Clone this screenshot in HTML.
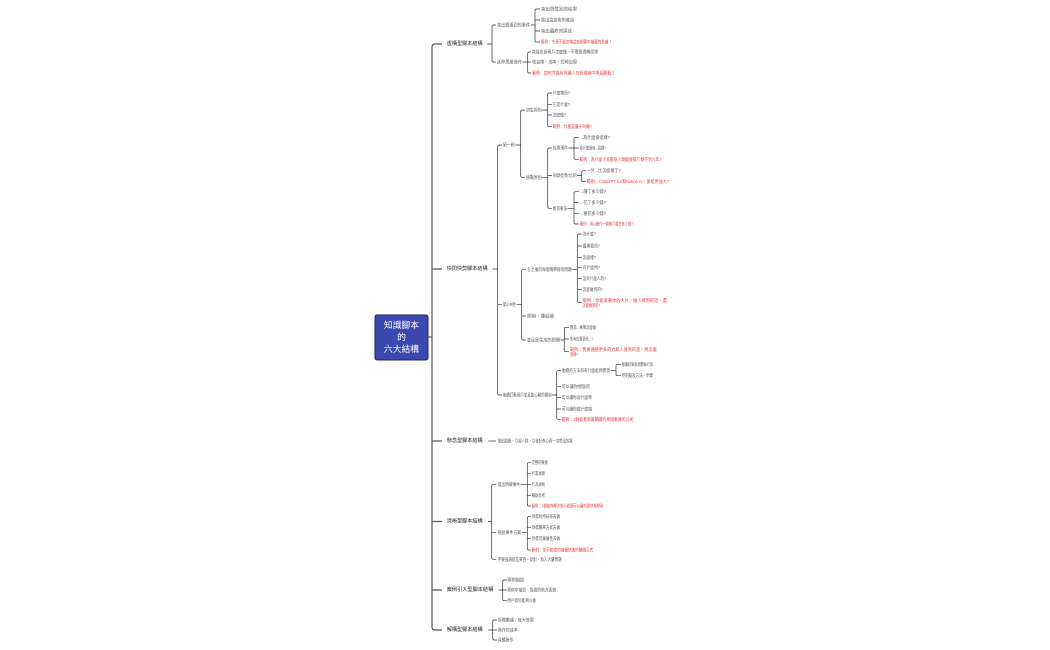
<!DOCTYPE html>
<html><head><meta charset="utf-8"><style>
html,body{margin:0;padding:0;background:#fff;width:1050px;height:650px;overflow:hidden}
svg{display:block}
text{font-family:"Liberation Sans","Noto Sans CJK TC",sans-serif;dominant-baseline:central}
.c{font-size:4.3px;fill:#555}
.r{font-size:4.3px;fill:#e8383d}
.l1{font-size:5.2px;fill:#222}
.ln{fill:none;stroke:#333;stroke-width:0.7}
.sp{fill:none;stroke:#555;stroke-width:1.2}
</style></head><body>
<svg width="1050" height="650" viewBox="0 0 1050 650" xmlns="http://www.w3.org/2000/svg">
<!-- central node -->
<rect x="375" y="315" width="53" height="45" rx="2" fill="#3b48ae" stroke="#1e2560" stroke-width="1"/>
<text x="401.5" y="325" text-anchor="middle" style="font-size:8.8px;fill:#fff">知識腳本</text>
<text x="401.5" y="337" text-anchor="middle" style="font-size:8.8px;fill:#fff">的</text>
<text x="401.5" y="349" text-anchor="middle" style="font-size:8.8px;fill:#fff">六大結構</text>
<path class="sp" d="M428,337 H432"/>
<path class="sp" d="M442,44 H435 Q432,44 432,47 V627 Q432,630 435,630 H442 M432,269 H442 M432,441 H442 M432,521.5 H442 M432,590 H442"/>

<!-- level 1 -->
<text class="l1" x="446.7" y="44" textLength="36" lengthAdjust="spacingAndGlyphs">虛構型腳本結構</text>
<text class="l1" x="446.7" y="269" textLength="41" lengthAdjust="spacingAndGlyphs">快閃快剪腳本結構</text>
<text class="l1" x="446.7" y="441" textLength="36" lengthAdjust="spacingAndGlyphs">懸念型腳本結構</text>
<text class="l1" x="446.7" y="521.5" textLength="36" lengthAdjust="spacingAndGlyphs">清晰型腳本結構</text>
<text class="l1" x="446.7" y="590" textLength="46.6" lengthAdjust="spacingAndGlyphs">案例引入型腳本結構</text>
<text class="l1" x="446.7" y="630" textLength="36" lengthAdjust="spacingAndGlyphs">解構型腳本結構</text>

<!-- Branch 1 -->
<path class="ln" d="M487,44 H492 M496,25 H493.5 Q492,25 492,26.5 V60.5 Q492,62 493.5,62 H496"/>
<text class="c" x="497" y="25" textLength="33" lengthAdjust="spacingAndGlyphs">突出要達到的事件</text>
<path class="ln" d="M531,25 H535 M540,9 H536.5 Q535,9 535,10.5 V40.5 Q535,42 536.5,42 H540 M535,20 H540 M535,31 H540"/>
<text class="c" x="541" y="9" textLength="36" lengthAdjust="spacingAndGlyphs">突出與性別的結果</text>
<text class="c" x="541" y="20" textLength="33" lengthAdjust="spacingAndGlyphs">突出這技術的收益</text>
<text class="c" x="541" y="31" textLength="31" lengthAdjust="spacingAndGlyphs">突出最終的達成</text>
<text class="r" x="541" y="42" textLength="71" lengthAdjust="spacingAndGlyphs">範例：千萬不要忽略這些細節中隱藏的危機！</text>
<text class="c" x="497" y="62" textLength="25" lengthAdjust="spacingAndGlyphs">延伸思維操作</text>
<path class="ln" d="M522.5,62 H531 M531,52 H529.2 Q527.7,52 527.7,53.5 V71.5 Q527.7,73 529.2,73 H531"/>
<text class="c" x="532" y="52" textLength="66" lengthAdjust="spacingAndGlyphs">直接告訴用戶怎麼做，不需要理解原理</text>
<text class="c" x="532" y="62" textLength="45" lengthAdjust="spacingAndGlyphs">收益降、成本、短時出現</text>
<text class="r" x="532" y="73" textLength="83" lengthAdjust="spacingAndGlyphs">範例：如何才能有效讓人在短視頻中增長觀看？</text>

<!-- Branch 2 -->
<path class="ln" d="M492.7,269 H497.7 M502,145 H499.2 Q497.7,145 497.7,146.5 V393.5 Q497.7,395 499.2,395 H502 M497.7,304.3 H502"/>
<text class="c" x="502.7" y="145" textLength="12.3" lengthAdjust="spacingAndGlyphs">第一秒</text>
<path class="ln" d="M515.5,145 H520.7 M525,110 H522.2 Q520.7,110 520.7,111.5 V175.8 Q520.7,177.3 522.2,177.3 H525"/>
<text class="c" x="526" y="110" textLength="15.7" lengthAdjust="spacingAndGlyphs">初生原則</text>
<path class="ln" d="M542,110 H547.7 M552,93 H549.2 Q547.7,93 547.7,94.5 V125.2 Q547.7,126.7 549.2,126.7 H552 M547.7,104.3 H552 M547.7,115 H552"/>
<text class="c" x="552.7" y="93" textLength="17.3" lengthAdjust="spacingAndGlyphs">什麼東西?</text>
<text class="c" x="552.7" y="104.3" textLength="17.3" lengthAdjust="spacingAndGlyphs">它是什麼?</text>
<text class="c" x="552.7" y="115" textLength="13.3" lengthAdjust="spacingAndGlyphs">怎麼做?</text>
<text class="r" x="552.7" y="126.7" textLength="39" lengthAdjust="spacingAndGlyphs">範例：什麼是量子糾纏?</text>
<text class="c" x="526" y="177.3" textLength="15.7" lengthAdjust="spacingAndGlyphs">挑戰原則</text>
<path class="ln" d="M542,177.3 H547.7 M552,148 H549.2 Q547.7,148 547.7,149.5 V206.8 Q547.7,208.3 549.2,208.3 H552 M547.7,175.5 H552"/>
<text class="c" x="552.7" y="148" textLength="15.3" lengthAdjust="spacingAndGlyphs">找尋事件</text>
<path class="ln" d="M568.5,148 H579 M579,137.3 H575.5 Q574,137.3 574,138.8 V157.8 Q574,159.3 575.5,159.3 H579"/>
<text class="c" x="579.5" y="137.3" textLength="30.5" lengthAdjust="spacingAndGlyphs">...為什麼會這樣?</text>
<text class="c" x="579.5" y="148" textLength="26.5" lengthAdjust="spacingAndGlyphs">為什麼會有...這樣?</text>
<text class="r" x="579.5" y="159.3" textLength="82" lengthAdjust="spacingAndGlyphs">範例：為什麼大家都說人類最後都只剩不到九年?</text>
<text class="c" x="552.7" y="175.5" textLength="24" lengthAdjust="spacingAndGlyphs">同類型對比的</text>
<path class="ln" d="M577,175.5 H581.7 M586,170.7 H583.2 Q581.7,170.7 581.7,172.2 V180.2 Q581.7,181.7 583.2,181.7 H586"/>
<text class="c" x="586.7" y="170.7" textLength="34" lengthAdjust="spacingAndGlyphs">—另...比怎麼樣了?</text>
<text class="r" x="586.7" y="181.7" textLength="82.3" lengthAdjust="spacingAndGlyphs">範例：ChatGPT 4.0和Notion AI，誰能更強大?</text>
<text class="c" x="552.7" y="208.3" textLength="14.5" lengthAdjust="spacingAndGlyphs">如何看法</text>
<path class="ln" d="M567.5,208.3 H574 M579,191.7 H575.5 Q574,191.7 574,193.2 V222.5 Q574,224 575.5,224 H579 M574,202.3 H579 M574,213.3 H579"/>
<text class="c" x="580" y="191.7" textLength="26" lengthAdjust="spacingAndGlyphs">...講了多少錢?</text>
<text class="c" x="580" y="202.3" textLength="26" lengthAdjust="spacingAndGlyphs">...花了多少錢?</text>
<text class="c" x="580" y="213.3" textLength="26" lengthAdjust="spacingAndGlyphs">...要花多少錢?</text>
<text class="r" x="580" y="224" textLength="53" lengthAdjust="spacingAndGlyphs">範例：用AI操作一個帳戶要花多少錢?</text>

<text class="c" x="502.7" y="304.3" textLength="13.3" lengthAdjust="spacingAndGlyphs">第2-8秒</text>
<path class="ln" d="M516.5,304.3 H521.7 M526,269.3 H523.2 Q521.7,269.3 521.7,270.8 V338.5 Q521.7,340 523.2,340 H526 M521.7,316 H526"/>
<text class="c" x="527.3" y="269.3" textLength="44.4" lengthAdjust="spacingAndGlyphs">在之後的每個情節裡的問題</text>
<path class="ln" d="M572,269.3 H577.3 M582,234 H578.8 Q577.3,234 577.3,235.5 V301 Q577.3,302.5 578.8,302.5 H582 M577.3,246 H582 M577.3,257.3 H582 M577.3,267.7 H582 M577.3,278.3 H582 M577.3,289.3 H582"/>
<text class="c" x="582.7" y="234" textLength="13.3" lengthAdjust="spacingAndGlyphs">為什麼?</text>
<text class="c" x="582.7" y="246" textLength="17.3" lengthAdjust="spacingAndGlyphs">最重要的?</text>
<text class="c" x="582.7" y="257.3" textLength="13.3" lengthAdjust="spacingAndGlyphs">怎麼樣?</text>
<text class="c" x="582.7" y="267.7" textLength="17.3" lengthAdjust="spacingAndGlyphs">有什麼用?</text>
<text class="c" x="582.7" y="278.3" textLength="23.3" lengthAdjust="spacingAndGlyphs">沒有什麼人的?</text>
<text class="c" x="582.7" y="289.3" textLength="20" lengthAdjust="spacingAndGlyphs">怎麼做到的?</text>
<text class="r" x="582.7" y="300.4" textLength="84" lengthAdjust="spacingAndGlyphs">範例：你能拿著你的大片，做人感到的話，還</text>
<text class="r" x="582.7" y="305.3" textLength="17.3" lengthAdjust="spacingAndGlyphs">怎麼做到的?</text>
<text class="c" x="527.3" y="316" textLength="26.7" lengthAdjust="spacingAndGlyphs">開始、擺結論</text>
<text class="c" x="526.7" y="340" textLength="33.3" lengthAdjust="spacingAndGlyphs">並且是生成的問題</text>
<path class="ln" d="M560.5,340 H564.3 M569,327.3 H565.8 Q564.3,327.3 564.3,328.8 V350.2 Q564.3,351.7 565.8,351.7 H569 M564.3,339 H569"/>
<text class="c" x="570" y="327.3" textLength="26" lengthAdjust="spacingAndGlyphs">我第...事情怎麼做</text>
<text class="c" x="570" y="339" textLength="23" lengthAdjust="spacingAndGlyphs">所有的事情也...?</text>
<text class="r" x="570" y="349.3" textLength="86.7" lengthAdjust="spacingAndGlyphs">範例：我要通過更多的力和人達到的話，將怎麼</text>
<text class="r" x="570" y="354.3" textLength="8" lengthAdjust="spacingAndGlyphs">發揮?</text>
<text class="c" x="502.7" y="395" textLength="49" lengthAdjust="spacingAndGlyphs">後續打動用戶並且能心動的開始</text>
<path class="ln" d="M552,395 H556.7 M561,370.7 H558.2 Q556.7,370.7 556.7,372.2 V417.8 Q556.7,419.3 558.2,419.3 H561 M556.7,386.7 H561 M556.7,397.7 H561 M556.7,409 H561"/>
<text class="c" x="561.7" y="370.7" textLength="48.3" lengthAdjust="spacingAndGlyphs">後續的方法和有什麼能夠實現</text>
<path class="ln" d="M610.5,370.7 H616 M621,364.3 H617.5 Q616,364.3 616,365.8 V374.2 Q616,375.7 617.5,375.7 H621"/>
<text class="c" x="621.7" y="364.3" textLength="31.3" lengthAdjust="spacingAndGlyphs">根據結果來規劃執行的</text>
<text class="c" x="621.7" y="375.7" textLength="31.3" lengthAdjust="spacingAndGlyphs">控制點及方法、步驟</text>
<text class="c" x="561.7" y="386.7" textLength="28.3" lengthAdjust="spacingAndGlyphs">可以讓你想說的</text>
<text class="c" x="561.7" y="397.7" textLength="30.3" lengthAdjust="spacingAndGlyphs">可以讓你說什麼準</text>
<text class="c" x="561.7" y="409" textLength="30.3" lengthAdjust="spacingAndGlyphs">可以讓你說什麼錯</text>
<text class="r" x="561.7" y="419.3" textLength="71.6" lengthAdjust="spacingAndGlyphs">範例：1個能看到最關鍵的那個重要的公式</text>

<!-- Branch 3 -->
<path class="ln" d="M488.3,441 H496"/>
<text class="c" x="497.7" y="441" textLength="75" lengthAdjust="spacingAndGlyphs">提出問題，引起人群，引發好奇心再一次帶出答案</text>

<!-- Branch 4 -->
<path class="ln" d="M488,521.5 H491.7 M496,484.3 H493.2 Q491.7,484.3 491.7,485.8 V557.8 Q491.7,559.3 493.2,559.3 H496 M491.7,532.7 H496"/>
<text class="c" x="497.7" y="484.3" textLength="22.3" lengthAdjust="spacingAndGlyphs">提出明確事件</text>
<path class="ln" d="M520.5,484.3 H531 M531,462.7 H528.8 Q527.3,462.7 527.3,464.2 V504.5 Q527.3,506 528.8,506 H531 M527.3,473.7 H531 M527.3,495.3 H531"/>
<text class="c" x="531.7" y="462.7" textLength="16.3" lengthAdjust="spacingAndGlyphs">完整的要素</text>
<text class="c" x="531.7" y="473.7" textLength="13.3" lengthAdjust="spacingAndGlyphs">行業風險</text>
<text class="c" x="531.7" y="484.3" textLength="13.3" lengthAdjust="spacingAndGlyphs">行為規則</text>
<text class="c" x="531.7" y="495.3" textLength="13.3" lengthAdjust="spacingAndGlyphs">輔助思考</text>
<text class="r" x="531.7" y="506" textLength="71.6" lengthAdjust="spacingAndGlyphs">範例：3個能夠解決的小問題可以讓你更快地學習</text>
<text class="c" x="497.7" y="532.7" textLength="23.3" lengthAdjust="spacingAndGlyphs">描述事件方案</text>
<path class="ln" d="M521.5,532.7 H527.3 M531,516.7 H528.8 Q527.3,516.7 527.3,518.2 V548.5 Q527.3,550 528.8,550 H531 M527.3,527.7 H531 M527.3,538.7 H531"/>
<text class="c" x="531.7" y="516.7" textLength="28.3" lengthAdjust="spacingAndGlyphs">目標利用技術去做</text>
<text class="c" x="531.7" y="527.7" textLength="28.3" lengthAdjust="spacingAndGlyphs">目標簡單方式去做</text>
<text class="c" x="531.7" y="538.7" textLength="28.3" lengthAdjust="spacingAndGlyphs">目標可擴展性去做</text>
<text class="r" x="531.7" y="550" textLength="61.6" lengthAdjust="spacingAndGlyphs">範例：你不知道的幾種快速的賺錢公式</text>
<text class="c" x="497.7" y="559.3" textLength="64" lengthAdjust="spacingAndGlyphs">不要強調這些東西，就對，加入大量問題</text>

<!-- Branch 5 -->
<path class="ln" d="M498.3,590 H507 M507,580 H504.2 Q502.7,580 502.7,581.5 V599.2 Q502.7,600.7 504.2,600.7 H507"/>
<text class="c" x="507.3" y="580" textLength="17" lengthAdjust="spacingAndGlyphs">案例描述</text>
<text class="c" x="507.3" y="590" textLength="48.7" lengthAdjust="spacingAndGlyphs">案例中描述、錯誤的地方面貌</text>
<text class="c" x="507.3" y="600.7" textLength="28.7" lengthAdjust="spacingAndGlyphs">用戶如何能夠以後</text>

<!-- Branch 6 -->
<path class="ln" d="M488.3,630 H497 M497,620 H494.2 Q492.7,620 492.7,621.5 V638.5 Q492.7,640 494.2,640 H497"/>
<text class="c" x="497.7" y="620" textLength="36.3" lengthAdjust="spacingAndGlyphs">拆開數據 / 放大效果</text>
<text class="c" x="497.7" y="630" textLength="20" lengthAdjust="spacingAndGlyphs">操作的成本</text>
<text class="c" x="497.7" y="640" textLength="15.6" lengthAdjust="spacingAndGlyphs">具體操作</text>
</svg>
</body></html>
